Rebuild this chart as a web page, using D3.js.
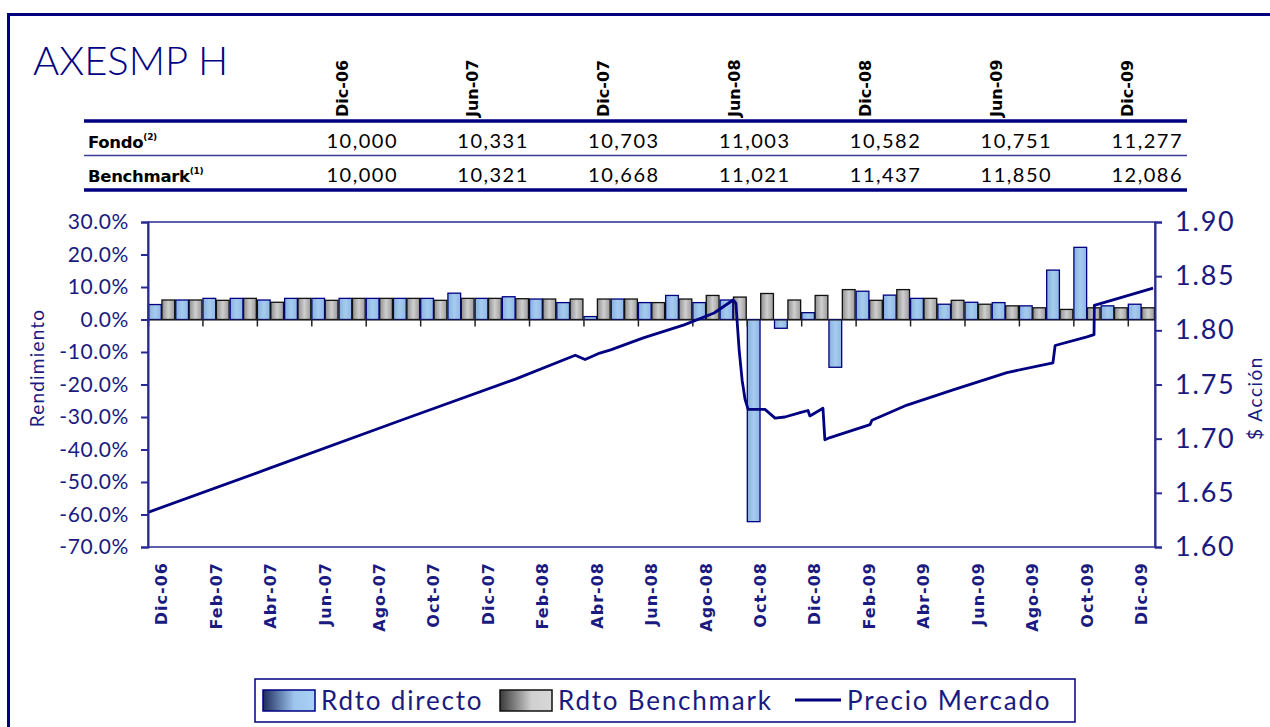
<!DOCTYPE html>
<html>
<head>
<meta charset="utf-8">
<script src="https://cdn.jsdelivr.net/npm/d3@7"></script>
<style>
  body { margin: 0; background: #fff; }
  svg { display: block; }
</style>
</head>
<body>
<script>
// monthly categories Dic-06 .. Dic-09
const months = ["Dic-06","Ene-07","Feb-07","Mar-07","Abr-07","May-07","Jun-07","Jul-07","Ago-07","Sep-07","Oct-07","Nov-07",
  "Dic-07","Ene-08","Feb-08","Mar-08","Abr-08","May-08","Jun-08","Jul-08","Ago-08","Sep-08","Oct-08","Nov-08",
  "Dic-08","Ene-09","Feb-09","Mar-09","Abr-09","May-09","Jun-09","Jul-09","Ago-09","Sep-09","Oct-09","Nov-09","Dic-09"];

const rdtoDirecto = [4.6, 6.0, 6.5, 6.5, 6.0, 6.5, 6.5, 6.5, 6.5, 6.5, 6.5, 8.1, 6.5, 7.0, 6.3, 5.2, 0.9, 6.3, 5.2, 7.4,
  5.2, 6.0, -62.2, -2.7, 2.1, -14.7, 8.7, 7.5, 6.5, 4.7, 5.3, 5.2, 4.2, 15.2, 22.2, 4.2, 4.7];
const rdtoBenchmark = [6.0, 6.0, 5.9, 6.5, 5.3, 6.5, 5.9, 6.5, 6.5, 6.5, 5.9, 6.5, 6.5, 6.4, 6.3, 6.3, 6.3, 6.3, 5.2, 6.3,
  7.4, 6.9, 8.0, 6.0, 7.4, 9.2, 5.9, 9.2, 6.5, 5.9, 4.7, 4.2, 3.6, 3.1, 3.6, 3.6, 3.6];

// precio mercado: month position (0 = start of Dic-06) and price
const precioT = [0, 4.5, 9.3, 13.5, 15.7, 16.06, 16.6, 17.0, 18.2, 19.7, 20.8, 21.5, 21.6, 21.72, 21.83, 21.94, 22.05,
  22.67, 23.04, 23.4, 23.96, 24.25, 24.32, 24.8, 24.87, 25.06, 26.53, 26.6, 27.89, 29.58, 31.56, 33.25, 33.33,
  34.5, 34.76, 34.77, 35.71, 36.93];
const precioMercado = [1.632, 1.673, 1.717, 1.755, 1.777, 1.773, 1.779, 1.782, 1.793, 1.805, 1.816, 1.828, 1.825,
  1.782, 1.754, 1.736, 1.727, 1.727, 1.719, 1.720, 1.724, 1.726, 1.721, 1.728, 1.699, 1.701, 1.713, 1.717, 1.731,
  1.745, 1.761, 1.770, 1.786, 1.794, 1.796, 1.823, 1.830, 1.839];

const leftTicks = [30, 20, 10, 0, -10, -20, -30, -40, -50, -60, -70];
const rightTicks = [1.90, 1.85, 1.80, 1.75, 1.70, 1.65, 1.60];

// table
const tableDates = ["Dic-06","Jun-07","Dic-07","Jun-08","Dic-08","Jun-09","Dic-09"];
const fondoValues = ["10,000","10,331","10,703","11,003","10,582","10,751","11,277"];
const benchValues = ["10,000","10,321","10,668","11,021","11,437","11,850","12,086"];

const W = 1270, H = 727;
const navy = "#000080", txt = "#1a1a80";
const m = {left: 148, right: 1155, top: 222, bottom: 547};

const svg = d3.select("body").append("svg").attr("width", W).attr("height", H);
const defs = svg.append("defs");

function grad(id, stops) {
  const g = defs.append("linearGradient").attr("id", id).attr("x1", 0).attr("x2", 1).attr("y1", 0).attr("y2", 0);
  stops.forEach(s => g.append("stop").attr("offset", s[0]).attr("stop-color", s[1]));
}
grad("gBlue", [[0, "#86b0dc"], [0.5, "#a6cbef"], [1, "#8fb8e2"]]);
grad("gGray", [[0, "#8e8e8e"], [0.5, "#cfcfcf"], [1, "#9a9a9a"]]);
grad("lBlue", [[0, "#1d2c5e"], [0.6, "#9ec6ee"], [1, "#a9d0f5"]]);
grad("lGray", [[0, "#3a3a3a"], [0.6, "#cfcfcf"], [1, "#d8d8d8"]]);

// outer frame
svg.append("rect").attr("x", 8.5).attr("y", 14.5).attr("width", 1400).attr("height", 900)
  .attr("fill", "none").attr("stroke", navy).attr("stroke-width", 3);

// title
svg.append("text").attr("x", 33).attr("y", 75).text("AXESMP H")
  .attr("font-family", "Lato, sans-serif").attr("font-weight", 300).attr("font-size", 40).attr("fill", navy);

// table
const colX = d3.scalePoint().domain(tableDates).range([398, 1183]);
svg.append("g").selectAll("text").data(tableDates).join("text")
  .attr("transform", d => `translate(${colX(d) - 56},117) rotate(-90)`)
  .attr("dy", "0.35em").attr("font-family", "DejaVu Sans, sans-serif").attr("font-weight", "bold")
  .attr("font-size", 16).attr("fill", "#000").text(d => d);

[[121, 3.5, navy], [155.5, 1.5, "#3a3a9a"], [190, 3.5, navy]].forEach(([y, w, c]) => {
  svg.append("line").attr("x1", 84).attr("x2", 1187).attr("y1", y).attr("y2", y)
    .attr("stroke", c).attr("stroke-width", w);
});

const rows = [["Fondo", "(2)", fondoValues, 148], ["Benchmark", "(1)", benchValues, 182]];
rows.forEach(([name, sup, vals, y]) => {
  const t = svg.append("text").attr("x", 88).attr("y", y).attr("font-family", "DejaVu Sans, sans-serif")
    .attr("font-weight", "bold").attr("font-size", 16.5).attr("letter-spacing", -0.3).attr("fill", "#000");
  t.append("tspan").text(name);
  t.append("tspan").attr("dy", -8).attr("font-size", 9).text(sup);
  svg.append("g").selectAll("text").data(vals).join("text")
    .attr("x", (d, i) => colX(tableDates[i])).attr("y", y)
    .attr("text-anchor", "end").attr("font-family", "Lato, sans-serif")
    .attr("font-size", 20).attr("letter-spacing", 1.5).attr("fill", "#000").text(d => d);
});

// scales
const x = d3.scaleBand().domain(d3.range(months.length)).range([m.left, m.right]);
const xs = d3.scaleBand().domain(["d", "b"]).range([0, x.bandwidth()]).paddingInner(0.05).paddingOuter(0.04);
const xt = d3.scaleLinear().domain([0, months.length]).range([m.left, m.right]);
const yL = d3.scaleLinear().domain([-70, 30]).range([m.bottom, m.top]);
const yR = d3.scaleLinear().domain([1.60, 1.90]).range([m.bottom, m.top]);

// plot frame
svg.append("rect").attr("x", m.left).attr("y", m.top).attr("width", m.right - m.left).attr("height", m.bottom - m.top)
  .attr("fill", "none").attr("stroke", "#2a2a95").attr("stroke-width", 1.5);

// bars
const bars = svg.append("g");
bars.selectAll("rect.d").data(rdtoDirecto).join("rect").attr("class", "d")
  .attr("x", (d, i) => x(i) + xs("d")).attr("width", xs.bandwidth())
  .attr("y", d => yL(Math.max(0, d))).attr("height", d => Math.abs(yL(d) - yL(0)))
  .attr("fill", "url(#gBlue)").attr("stroke", navy).attr("stroke-width", 1.3);
bars.selectAll("rect.b").data(rdtoBenchmark).join("rect").attr("class", "b")
  .attr("x", (d, i) => x(i) + xs("b")).attr("width", xs.bandwidth())
  .attr("y", d => yL(Math.max(0, d))).attr("height", d => Math.abs(yL(d) - yL(0)))
  .attr("fill", "url(#gGray)").attr("stroke", "#111").attr("stroke-width", 1.3);

// zero axis with tick marks
const zeroAxis = svg.append("g").attr("transform", `translate(0,${yL(0)})`)
  .call(d3.axisBottom(xt).tickValues(d3.range(0, months.length + 1, 2)).tickSize(7).tickFormat(""));
zeroAxis.select(".domain").attr("stroke", "#222").attr("stroke-width", 1);
zeroAxis.selectAll(".tick line").attr("stroke", "#222").attr("stroke-width", 1.5);

// price line
const pts = precioT.map((t, i) => [t, precioMercado[i]]);
svg.append("path").datum(pts)
  .attr("d", d3.line().x(d => xt(d[0])).y(d => yR(d[1])))
  .attr("fill", "none").attr("stroke", navy).attr("stroke-width", 2.8).attr("stroke-linejoin", "round");

// left axis
const la = svg.append("g").attr("transform", `translate(${m.left},0)`)
  .call(d3.axisLeft(yL).tickValues(leftTicks).tickFormat(d => d.toFixed(1) + "%").tickSize(7).tickPadding(12));
la.selectAll("text").attr("font-family", "Lato, sans-serif").attr("font-size", 21)
  .attr("letter-spacing", 0.6).attr("fill", txt);
la.selectAll("line, path").attr("stroke", "#2a2a95").attr("stroke-width", 2);

// right axis
const ra = svg.append("g").attr("transform", `translate(${m.right},0)`)
  .call(d3.axisRight(yR).tickValues(rightTicks).tickFormat(d3.format(".2f")).tickSize(7).tickPadding(13));
ra.selectAll("text").attr("font-family", "Lato, sans-serif").attr("font-size", 27)
  .attr("letter-spacing", 1.8).attr("fill", txt);
ra.selectAll("line, path").attr("stroke", "#2a2a95").attr("stroke-width", 2);

// x labels
const xa = svg.append("g").attr("transform", `translate(0,${m.bottom})`)
  .call(d3.axisBottom(x).tickValues(d3.range(0, months.length, 2)).tickFormat(i => months[i]).tickSize(0));
xa.select(".domain").remove();
xa.selectAll("text").attr("transform", "translate(0,15) rotate(-90)").attr("text-anchor", "end")
  .attr("x", 0).attr("y", 0).attr("dy", "0.35em").attr("letter-spacing", 1)
  .attr("font-family", "DejaVu Sans, sans-serif").attr("font-weight", "bold").attr("font-size", 16).attr("fill", txt);

// axis titles
svg.append("text").attr("transform", "translate(44,368) rotate(-90)").attr("text-anchor", "middle")
  .attr("font-family", "Lato, sans-serif").attr("font-size", 19).attr("letter-spacing", 1.2)
  .attr("fill", txt).text("Rendimiento");
svg.append("text").attr("transform", "translate(1255,398) rotate(-90)").attr("text-anchor", "middle")
  .attr("dy", "0.35em").attr("font-family", "Lato, sans-serif").attr("font-size", 19).attr("letter-spacing", 1.5)
  .attr("fill", txt).text("$ Acción");

// legend
const lg = svg.append("g");
lg.append("rect").attr("x", 255).attr("y", 679).attr("width", 820).attr("height", 43)
  .attr("fill", "#fff").attr("stroke", navy).attr("stroke-width", 1.5);
const items = [
  {label: "Rdto directo", type: "bar", fill: "url(#lBlue)", stroke: navy, x: 263},
  {label: "Rdto Benchmark", type: "bar", fill: "url(#lGray)", stroke: "#111", x: 500},
  {label: "Precio Mercado", type: "line", x: 795}
];
items.forEach(it => {
  if (it.type === "bar") {
    lg.append("rect").attr("x", it.x).attr("y", 690).attr("width", 52).attr("height", 21)
      .attr("fill", it.fill).attr("stroke", it.stroke).attr("stroke-width", 1.5);
  } else {
    lg.append("line").attr("x1", it.x).attr("x2", it.x + 46).attr("y1", 700).attr("y2", 700)
      .attr("stroke", navy).attr("stroke-width", 2.8);
  }
  lg.append("text").attr("x", it.x + (it.type === "bar" ? 58 : 52)).attr("y", 701).attr("dy", "0.35em")
    .attr("font-family", "Lato, sans-serif").attr("font-size", 26).attr("letter-spacing", 1.8)
    .attr("fill", txt).text(it.label);
});
</script>
</body>
</html>
